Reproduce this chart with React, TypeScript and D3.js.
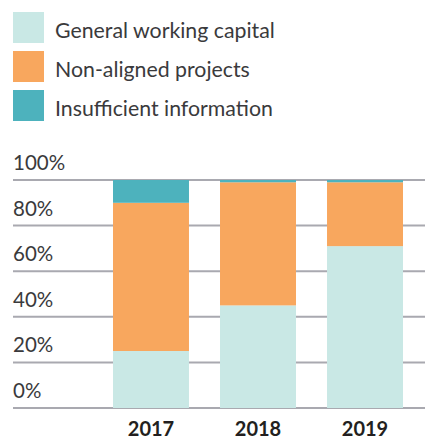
import { useEffect, useRef } from "react"
import * as d3 from "d3"

const years = ["2017", "2018", "2019"]
const seriesNames = ["General working capital", "Non-aligned projects", "Insufficient information"]
const workingCapital = [25, 45, 71]
const nonAligned = [65, 54, 28]
const insufficient = [10, 1, 1]
const yTicks = [0, 20, 40, 60, 80, 100]

const colors = ["#c9e8e5", "#f8a75e", "#4db2bd"]

const App = () => {
  const svgRef = useRef<SVGSVGElement | null>(null)

  useEffect(() => {
    const width = 425
    const height = 437

    document.body.style.margin = "0"

    const rows = years.map((year, i) => ({
      year,
      capital: workingCapital[i],
      nonAligned: nonAligned[i],
      insufficient: insufficient[i]
    }))
    const keys = ["capital", "nonAligned", "insufficient"]

    const stack = d3.stack<any>().keys(keys)
    const stacked = stack(rows)

    const x = d3.scaleBand<string>()
      .domain(years)
      .range([113, 403])
      .paddingInner(0.29)
      .paddingOuter(0)

    const y = d3.scaleLinear()
      .domain([0, 100])
      .range([408, 180])

    const svg = d3.select(svgRef.current)
      .attr("width", width)
      .attr("height", height)
      .style("display", "block")
      .style("font-family", "Lato, sans-serif")

    svg.selectAll("*").remove()

    // legend
    const legend = svg.append("g")
    seriesNames.forEach((name, i) => {
      const g = legend.append("g").attr("transform", `translate(13,${12 + i * 39})`)
      g.append("rect")
        .attr("width", 31)
        .attr("height", 31)
        .attr("fill", colors[i])
      g.append("text")
        .attr("x", 42)
        .attr("y", 25.5)
        .attr("font-size", 21.3)
        .attr("fill", "#3a3a3c")
        .text(name)
    })

    // gridlines + y labels
    const grid = svg.append("g")
    yTicks.forEach(t => {
      grid.append("line")
        .attr("x1", 13)
        .attr("x2", width)
        .attr("y1", y(t))
        .attr("y2", y(t))
        .attr("stroke", "#a9a9b0")
        .attr("stroke-width", 2)
      grid.append("text")
        .attr("x", 13)
        .attr("y", y(t) - 10)
        .attr("font-size", 20.5)
        .attr("fill", "#3a3a3c")
        .text(`${t}%`)
    })

    // bars
    svg.append("g")
      .selectAll("g")
      .data(stacked)
      .enter()
      .append("g")
      .attr("fill", (_d, i) => colors[i])
      .selectAll("rect")
      .data(d => d)
      .enter()
      .append("rect")
      .attr("x", d => x(d.data.year) as number)
      .attr("width", x.bandwidth())
      .attr("y", d => y(d[1]))
      .attr("height", d => y(d[0]) - y(d[1]))

    // x labels
    svg.append("g")
      .selectAll("text")
      .data(years)
      .enter()
      .append("text")
      .attr("x", d => (x(d) as number) + x.bandwidth() / 2)
      .attr("y", 436)
      .attr("text-anchor", "middle")
      .attr("font-size", 20)
      .attr("font-weight", "bold")
      .attr("fill", "#231f20")
      .text(d => d)
  }, [])

  return <svg ref={svgRef}></svg>
}

export default App
